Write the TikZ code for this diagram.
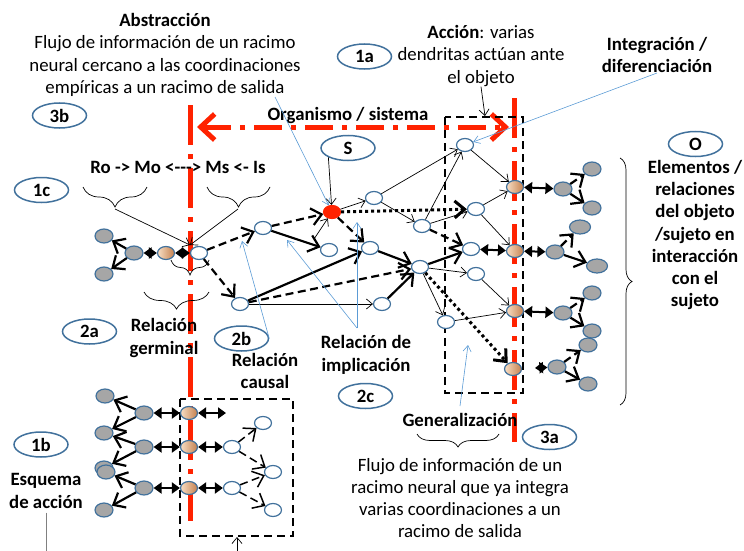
\documentclass[tikz,border=0pt]{standalone}
\usepackage{fontspec}
\setmainfont{Carlito}
\usetikzlibrary{arrows.meta,positioning,shapes.geometric,decorations.pathreplacing}
\definecolor{cellblue}{RGB}{65,113,156}
\definecolor{cellgrey}{RGB}{166,166,166}
\definecolor{tanlight}{RGB}{248,222,196}
\definecolor{tandark}{RGB}{196,128,78}
\definecolor{firered}{RGB}{255,34,0}
\definecolor{pointblue}{RGB}{91,155,213}

\begin{document}
\begin{tikzpicture}[
    x=1pt, y=-1pt,
    font=\fontsize{18.8}{22.3}\selectfont,
    cell/.style={
        ellipse,
        draw=cellblue,
        line width=1.2pt,
        fill=white,
        minimum width=17pt,
        minimum height=13pt,
        inner sep=0pt
    },
    greycell/.style={cell, fill=cellgrey, minimum width=18pt, minimum height=14pt},
    tancell/.style={cell, left color=tanlight, right color=tandark},
    firecell/.style={cell, draw=firered, fill=firered},
    tag/.style={
        ellipse,
        draw=cellblue,
        line width=1.5pt,
        font=\fontsize{18.8}{22.3}\selectfont\bfseries,
        minimum width=54pt,
        minimum height=25pt,
        inner sep=0pt
    },
    note/.style={align=center, inner sep=0pt},
    heading/.style={note, font=\fontsize{18.8}{22.3}\selectfont\bfseries},
    link/.style={-{Straight Barb[length=6pt,width=10pt]}, line width=0.7pt},
    strong/.style={-{Straight Barb[length=10pt,width=17pt]}, line width=2.2pt},
    dashlink/.style={strong, dash pattern=on 8pt off 4.5pt},
    dotlink/.style={strong, line width=3pt, dash pattern=on 3pt off 3pt},
    bond/.style={{Triangle[length=8pt,width=11pt]}-{Triangle[length=8pt,width=11pt]}, line width=2pt},
    pointer/.style={-{Straight Barb[length=6pt,width=8pt]}, draw=pointblue, line width=0.6pt},
    redaxis/.style={draw=firered, line width=5pt, dash pattern=on 40pt off 9pt on 5pt off 9pt},
    dashframe/.style={draw, line width=1.5pt, dash pattern=on 8pt off 5pt},
    curly/.style={decorate, decoration={brace, mirror, amplitude=#1}, line width=0.7pt},
    curlyright/.style={decorate, decoration={brace, amplitude=#1}, line width=0.7pt}
]
\useasboundingbox (0,0) rectangle (744,551);

% red axes and dashed frames
\draw[redaxis] (190,105) -- (190,521);
\draw[redaxis] (514,98) -- (514,442);
\draw[redaxis, dash pattern=on 28pt off 9pt on 5pt off 9pt,
    {Straight Barb[length=14pt,width=26pt]}-{Straight Barb[length=14pt,width=26pt]}]
    (197,127) -- (509,127);
\draw[dashframe] (445,117) rectangle (523,393);
\draw[dashframe] (180,399) rectangle (293,536);

% texts
\node[note] (abstr) at (165,55) {\textbf{Abstracción}\\Flujo de información de un racimo\\neural cercano a las coordinaciones\\empíricas a un racimo de salida};
\node[note] (accion) at (481,56) {\textbf{Acción}: varias\\dendritas actúan ante\\el objeto};
\node[heading] (integ) at (657,55) {Integración /\\diferenciación};
\node[heading, anchor=base] (organismo) at (348,120) {Organismo / sistema};
\node[heading, anchor=base] (romo) at (178,173) {Ro -> Mo <-\kern0pt-\kern0pt-> Ms <- Is};
\node[heading] (germinal) at (164,338) {Relación\\germinal};
\node[heading] (causal) at (265,371) {Relación\\causal};
\node[heading] (implica) at (366,355) {Relación de\\implicación};
\node[heading, anchor=base] (general) at (460,426) {Generalización};
\node[note] (flujo) at (460,498) {Flujo de información de un\\racimo neural que ya integra\\varias coordinaciones a un\\racimo de salida};
\node[heading] (elementos) at (695,235) {Elementos /\\relaciones\\del objeto\\/sujeto en\\interacción\\con el\\sujeto};
\node[heading] (esquema) at (46,491) {Esquema\\de acción};

% tags
\node[tag] (tag3b) at (59.5,115.5) {3b};
\node[tag] (tag1a) at (364.5,56.5) {1a};
\node[tag] (tagS) at (348,148) {S};
\node[tag] (tag1c) at (41.5,190) {1c};
\node[tag] (tagO) at (695.5,144) {O};
\node[tag] (tag2a) at (89.5,331.5) {2a};
\node[tag] (tag2b) at (241.5,338.5) {2b};
\node[tag] (tag2c) at (365.5,396) {2c};
\node[tag] (tag1b) at (41,444.5) {1b};
\node[tag] (tag3a) at (549.5,437) {3a};

% braces
\draw[curly=20pt] (83,187) -- (147,187);
\draw[curly=20pt] (207,187) -- (270,187);
\draw[curly=15pt] (171,260) -- (209,260);
\draw[curly=17pt] (144,292) -- (209,292);
\draw[curly=13pt] (417,434) -- (499,434);
\draw[curlyright=12pt] (620,158) -- (620,405);
\coordinate (romo left) at (115,209);
\coordinate (romo right) at (238,209);
\coordinate (romo meet) at (190,245);

% left group
\node[greycell] (g1) at (104,236) {};
\node[greycell] (g2) at (104,274) {};
\node[greycell] (g3) at (134,253) {};
\node[tancell] (o1) at (166,253) {};
\node[cell] (w0) at (199,253) {};

% middle network
\node[cell] (a1) at (263,228) {};
\node[cell] (d1) at (240,304) {};
\node[firecell] (s0) at (332,212) {};
\node[cell] (b1) at (374,198) {};
\node[cell] (b2) at (329,250) {};
\node[cell] (b3) at (370,248) {};
\node[cell] (c1) at (422,226) {};
\node[cell] (c2) at (420,267) {};
\node[cell] (d2) at (382,304) {};
\node[cell] (e1) at (446,322) {};
\node[cell] (t1) at (465,145) {};
\node[cell] (m1) at (476,209) {};
\node[cell] (m2) at (471,249) {};
\node[cell] (m3) at (476,274) {};
\node[tancell] (r1) at (515,187) {};
\node[tancell] (r2) at (515,251) {};
\node[tancell] (r3) at (515,311) {};
\node[tancell] (r4) at (513,369) {};
\coordinate (stub) at (314,239);

% right fans
\node[greycell] (q1) at (563,189) {};
\node[greycell] (q1a) at (592,169) {};
\node[greycell] (q1b) at (592,208) {};
\node[greycell] (q2) at (555,252) {};
\node[greycell, minimum width=21pt] (q2a) at (580,227) {};
\node[greycell, minimum width=21pt] (q2b) at (597,266) {};
\node[greycell] (q3) at (563,313) {};
\node[greycell] (q3a) at (592,293) {};
\node[greycell] (q3b) at (592,331) {};
\node[greycell] (q4) at (557,367) {};
\node[greycell] (q4a) at (588,345) {};
\node[greycell] (q4b) at (588,384) {};
\coordinate (q4 in) at (535,368);

% lower left group
\node[greycell] (l1) at (105,396) {};
\node[greycell] (l2) at (104,433) {};
\node[greycell] (l3) at (104,468) {};
\node[greycell] (l3b) at (106,472) {};
\node[greycell] (l4) at (104,510) {};
\node[greycell] (k1) at (144,413) {};
\node[greycell] (k2) at (144,447) {};
\node[greycell] (k3) at (144,488) {};
\node[tancell] (n1) at (189,413) {};
\node[tancell] (n2) at (189,447) {};
\node[tancell] (n3) at (189,488) {};
\node[cell] (v1) at (232,447) {};
\node[cell] (v2) at (232,488) {};
\node[cell] (x1) at (263,423) {};
\node[cell] (x2) at (273,472) {};
\node[cell] (x3) at (273,510) {};
\coordinate (n1 out) at (226,413);

% connectors: left group
\draw[strong] (g3) -- (g1);
\draw[strong] (g3) -- (g2);
\draw[bond] (g3) -- (o1);
\draw[bond] (o1) -- (w0);
\draw[link] (romo left) -- (romo meet);
\draw[link] (romo right) -- (romo meet);

% connectors: middle
\draw[dashlink] (w0) -- (a1);
\draw[dashlink] (w0) -- (d1);
\draw[dashlink] (a1) -- (s0);
\draw[strong] (a1) -- (b2);
\draw[strong] (d1) -- (b3);
\draw[dashlink] (d1) -- (c2);
\draw[link] (d1) -- (d2);
\draw[link] (tagS.south west) -- (s0);
\draw[link] (stub) -- (s0);
\draw[link] (s0) -- (b1);
\draw[dashlink] (s0) -- (b3);
\draw[dotlink] (s0) -- (m1);
\draw[link] (b1) -- (c1);
\draw[link] (b1) -- (t1);
\draw[link] (c1) -- (t1);
\draw[link] (c1) -- (m1);
\draw[dashlink] (c1) -- (m2);
\draw[strong] (b3) -- (c2);
\draw[strong] (d2) -- (c2);
\draw[strong] (c2) -- (m2);
\draw[link] (c2) -- (m3);
\draw[link] (c2) -- (e1);
\draw[dotlink] (c2) -- (r4);
\draw[link] (e1) -- (r3);
\draw[link] (t1) -- (r1);
\draw[link] (m1) -- (r1);
\draw[link] (m1) -- (r2);
\draw[link] (m3) -- (r3);
\draw[bond] (m2) -- (r2);

% connectors: right fans
\draw[bond] (r1) -- (q1);
\draw[dashlink] (q1) -- (q1a);
\draw[strong] (q1) -- (q1b);
\draw[bond] (r2) -- (q2);
\draw[dashlink] (q2) -- (q2a);
\draw[strong] (q2) -- (q2b);
\draw[bond] (r3) -- (q3);
\draw[dashlink] (q3) -- (q3a);
\draw[strong] (q3) -- (q3b);
\draw[bond] (q4 in) -- (q4);
\draw[dashlink] (q4) -- (q4a);
\draw[strong] (q4) -- (q4b);

% connectors: lower left
\draw[strong] (k1) -- (l1);
\draw[strong] (k1) -- (l2);
\draw[strong] (k2) -- (l2);
\draw[strong] (k2) -- (l3);
\draw[strong] (k3) -- (l3b);
\draw[strong] (k3) -- (l4);
\draw[bond] (k1) -- (n1);
\draw[bond] (k2) -- (n2);
\draw[bond] (k3) -- (n3);
\draw[bond] (n1) -- (n1 out);
\draw[bond] (n2) -- (v1);
\draw[bond] (n3) -- (v2);
\draw[dashlink, line width=1.5pt] (v1) -- (x1);
\draw[dashlink, line width=1.5pt] (v1) -- (x2);
\draw[dashlink, line width=1.5pt] (v2) -- (x2);
\draw[dashlink, line width=1.5pt] (v2) -- (x3);
\coordinate (box foot) at (237,551);
\coordinate (box hit) at (237,537);
\draw[link] (box foot) -- (box hit);
\coordinate (esquema end) at (46,551);
\draw[line width=0.7pt, gray] (esquema.south) ++(0,4) -- (esquema end);

% pointers
\coordinate (abstr foot) at (275,97);
\coordinate (frame top) at (485,116);
\coordinate (causal hit) at (242,241);
\coordinate (impl foot) at (357,328);
\coordinate (impl hit a) at (287,240);
\coordinate (impl hit b) at (357,222);
\coordinate (gen foot) at (460,406);
\coordinate (gen hit) at (468,345);
\draw[pointer] (abstr foot) -- (s0);
\draw[link] (accion.south) -- (frame top);
\draw[pointer] (integ.south) -- (t1);
\draw[pointer] (tag2b.east) -- (causal hit);
\draw[pointer] (impl foot) -- (impl hit a);
\draw[pointer] (impl foot) -- (impl hit b);
\draw[pointer] (gen foot) -- (gen hit);

\end{tikzpicture}
\end{document}
